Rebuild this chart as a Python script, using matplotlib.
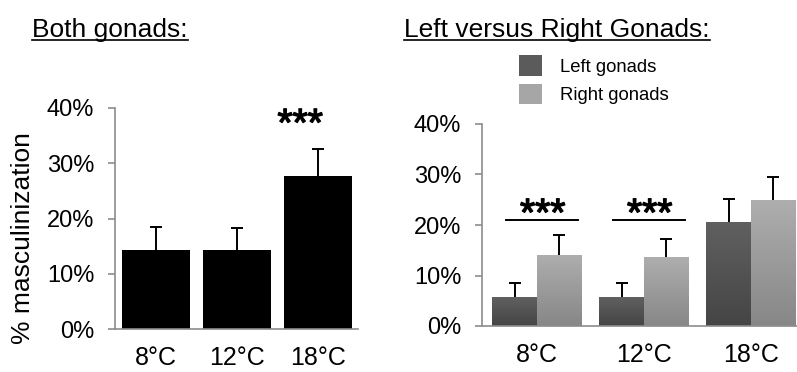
import numpy as np
import matplotlib
matplotlib.use("Agg")
import matplotlib.pyplot as plt
import matplotlib.patheffects as pe
from matplotlib.patches import Patch
from matplotlib.lines import Line2D

plt.rcParams['font.family'] = ['Liberation Sans', 'DejaVu Sans']

# data
temps = ["8°C", "12°C", "18°C"]
both = [14.3, 14.3, 27.7]
both_err = [4.1, 3.9, 4.8]
left = [5.7, 5.7, 20.5]
left_err = [2.9, 2.9, 4.6]
right = [14.1, 13.6, 25.0]
right_err = [3.9, 3.7, 4.6]
yticks = [0, 10, 20, 30, 40]

spine_col = "#8c8c8c"
star_fx = [pe.withStroke(linewidth=1.0, foreground="black")]


def style_axis(ax):
    for s in ["top", "right"]:
        ax.spines[s].set_visible(False)
    for s in ["left", "bottom"]:
        ax.spines[s].set_color(spine_col)
        ax.spines[s].set_linewidth(1.2)
    ax.set_ylim(0, 40)
    ax.set_yticks(yticks)
    ax.set_yticklabels([f"{v}%" for v in yticks])
    ax.tick_params(axis="y", length=5, width=1.2, color=spine_col, pad=10, labelsize=17)
    ax.tick_params(axis="x", length=0, pad=12, labelsize=18)
    ax.set_xticks(range(len(temps)))
    ax.set_xticklabels(temps)


def upper_err(ax, xs, ys, errs):
    # only the upper half of the error bar, as in the figure
    _, caps, _ = ax.errorbar(xs, ys, yerr=[np.zeros(len(ys)), errs], fmt="none",
                             ecolor="black", elinewidth=1.4, capsize=4, capthick=1.4,
                             zorder=3)
    caps[0].set_visible(False)


def gradient_bars(ax, xs, heights, width, top_col, bot_col):
    bars = ax.bar(xs, heights, width, color=top_col, zorder=2)
    grad = np.linspace(0, 1, 100).reshape(-1, 1)
    cmap = matplotlib.colors.LinearSegmentedColormap.from_list("g", [bot_col, top_col])
    for b in bars:
        x0, w, h = b.get_x(), b.get_width(), b.get_height()
        im = ax.imshow(grad, extent=(x0, x0 + w, 0, h), origin="lower",
                       cmap=cmap, aspect="auto", zorder=2.5)
        im.set_clip_path(b)
    return bars


fig = plt.figure(figsize=(7.97, 3.72), dpi=100)

# left panel: both gonads
ax1 = fig.add_axes([115 / 797, 1 - 329 / 372, 243 / 797, 221 / 372])
x = np.arange(len(temps))
ax1.bar(x, both, 0.84, color="black", zorder=2)
upper_err(ax1, x, both, both_err)
style_axis(ax1)
ax1.set_xlim(-0.506, 2.494)
ax1.text(1.78, 35.0, "***", ha="center", va="baseline", fontsize=28, path_effects=star_fx)

# right panel: left vs right
ax2 = fig.add_axes([482 / 797, 1 - 326 / 372, 315 / 797, 202 / 372])
w = 0.42
gradient_bars(ax2, x - w / 2, left, w, "#606060", "#454545")
gradient_bars(ax2, x + w / 2, right, w, "#aeaeae", "#878787")
upper_err(ax2, x - w / 2, left, left_err)
upper_err(ax2, x + w / 2, right, right_err)
style_axis(ax2)
ax2.set_xlim(-0.514, 2.43)
for cx in [0, 1]:
    ax2.plot([cx - 0.29, cx + 0.385], [21, 21], color="black", lw=1.4, zorder=3)
    ax2.text(cx + 0.053, 19.9, "***", ha="center", va="baseline", fontsize=28,
             path_effects=star_fx)

# legend
handles = [Patch(facecolor="#5b5b5b", label="Left gonads"),
           Patch(facecolor="#a6a6a6", label="Right gonads")]
fig.legend(handles=handles, loc="upper left", bbox_to_anchor=(512 / 797, 1 - 48 / 372),
           frameon=False, fontsize=13.3, handlelength=1.2, handleheight=1.3,
           handletextpad=1.0, labelspacing=0.45, borderaxespad=0)

# y label
fig.text(23 / 797, 1 - 238 / 372, "% masculinization", rotation=90,
         ha="center", va="center", fontsize=19)

# underlined titles
t1 = fig.text(32 / 797, 1 - 37 / 372, "Both gonads:", fontsize=19, va="baseline")
t2 = fig.text(404 / 797, 1 - 37 / 372, "Left versus Right Gonads:", fontsize=19, va="baseline")
fig.canvas.draw()
r = fig.canvas.get_renderer()
for t in [t1, t2]:
    bb = t.get_window_extent(r)
    yl = (372 - 39.5) / 372
    fig.add_artist(Line2D([bb.x0 / 797, bb.x1 / 797], [yl, yl], color="black", lw=1.2))

fig.savefig("out.png", dpi=100)
